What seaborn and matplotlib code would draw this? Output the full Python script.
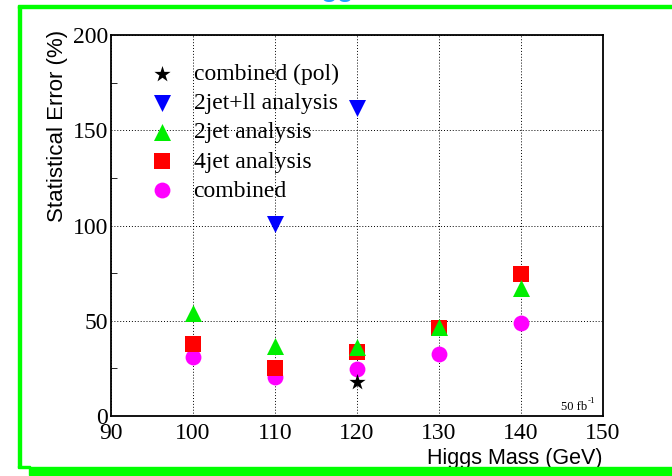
import numpy as np
import pandas as pd
import matplotlib.pyplot as plt
import matplotlib.patches as mpatches
import seaborn as sns

# data
mass = [100, 110, 120, 130, 140]
combined = [31, 20.5, 24.5, 32.5, 49]
jet4 = [38, 25, 33.5, 46, 74.5]
jet2 = [54, 37, 36, 47, 67]
jet2ll_mass = [110, 120]
jet2ll = [101, 162]
pol_mass = [120]
pol = [18]

sns.set_style("white")
plt.rcParams['font.family'] = ['Liberation Serif', 'DejaVu Serif']
plt.rcParams['text.color'] = 'black'
plt.rcParams['axes.labelcolor'] = 'black'
plt.rcParams['xtick.color'] = 'black'
plt.rcParams['ytick.color'] = 'black'

fig = plt.figure(figsize=(6.72, 4.76), dpi=100)
ax = fig.add_axes([0.1652, 0.126, 0.732, 0.800])

# drawing order: circles at the bottom, triangles on top
series = [
    ('combined', mass, combined, 'o', '#ff00ff', 130),
    ('4jet analysis', mass, jet4, 's', '#ff0000', 120),
    ('2jet analysis', mass, jet2, '^', '#00ee00', 150),
    ('2jet+ll analysis', jet2ll_mass, jet2ll, 'v', '#0000ff', 150),
    ('combined (pol)', pol_mass, pol, '*', '#000000', 150),
]
for name, xs, ys, mk, col, sz in series:
    df = pd.DataFrame({'x': xs, 'y': ys})
    sns.scatterplot(data=df, x='x', y='y', marker=mk, color=col, s=sz,
                    linewidth=0, label=name, ax=ax, zorder=3)

ax.set_xlim(90, 150)
ax.set_ylim(0, 200)
ax.set_xticks([90, 100, 110, 120, 130, 140, 150])
ax.set_yticks([0, 50, 100, 150, 200])
ax.set_yticks([25, 75, 125, 175], minor=True)
ax.tick_params(axis='both', which='major', direction='in', length=6,
               labelsize=17, pad=2)
ax.tick_params(axis='x', which='major', pad=5)
ax.tick_params(axis='y', which='minor', direction='in', length=4, left=True)
ax.grid(True, which='major', color='black', linestyle=(0, (1, 2)), linewidth=0.7)
for sp in ax.spines.values():
    sp.set_color('black')
    sp.set_linewidth(1.3)

ax.set_xlabel('Higgs Mass (GeV)', fontsize=15.5, family='Liberation Sans')
ax.xaxis.set_label_coords(1.0, -0.083)
ax.xaxis.label.set_horizontalalignment('right')
ax.set_ylabel('Statistical Error (%)', fontsize=16, family='Liberation Sans')
ax.yaxis.set_label_coords(-0.108, 1.015)
ax.yaxis.label.set_verticalalignment('center')
ax.yaxis.label.set_horizontalalignment('right')

ax.text(0.968, 0.008, '50 fb', transform=ax.transAxes, ha='right',
        va='bottom', fontsize=9)
ax.text(0.969, 0.03, '-1', transform=ax.transAxes, ha='left',
        va='bottom', fontsize=6.5)

handles, labels = ax.get_legend_handles_labels()
order = ['combined (pol)', '2jet+ll analysis', '2jet analysis', '4jet analysis', 'combined']
hmap = dict(zip(labels, handles))
ax.legend([hmap[k] for k in order], order, loc='upper left',
          bbox_to_anchor=(0.079, 0.925), frameon=False, fontsize=17,
          borderaxespad=0, borderpad=0, handlelength=1.0, handletextpad=0.85,
          labelspacing=0.32)

# green frame round the picture
green = '#00ff00'
fig.patches.append(mpatches.Rectangle((18 / 672, 1 - 467 / 476), 3 / 672, 461 / 476,
                                      transform=fig.transFigure, color=green, zorder=0))
fig.patches.append(mpatches.Rectangle((18 / 672, 1 - 8 / 476), 654 / 672, 3 / 476,
                                      transform=fig.transFigure, color=green, zorder=0))
fig.patches.append(mpatches.Rectangle((18 / 672, 1 - 468 / 476), 12 / 672, 2 / 476,
                                      transform=fig.transFigure, color=green, zorder=0))
fig.patches.append(mpatches.Rectangle((29 / 672, 1 - 475 / 476), 643 / 672, 8 / 476,
                                      transform=fig.transFigure, color=green, zorder=0))

# title that is cut off above the picture
fig.text(0.503, 1.009, 'gg', color='#1ea0ff', fontsize=20, fontweight='bold',
         family='Liberation Sans', ha='center', va='baseline')

fig.savefig('out.png', dpi=100)
